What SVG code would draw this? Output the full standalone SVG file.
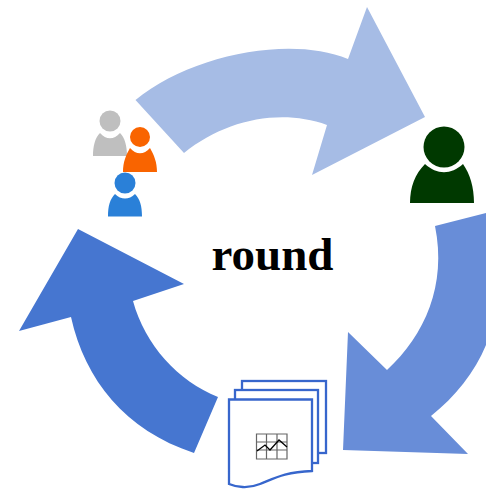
<svg xmlns="http://www.w3.org/2000/svg" width="486" height="492" viewBox="0 0 486 492">
<style>
.doc{fill:#fff;stroke:#3766cc;stroke-width:2.300}
.grid{fill:none;stroke:#666;stroke-width:1.200}
.t{font-family:"Liberation Serif",serif;font-weight:bold;font-size:47px;fill:#000}
</style>
<rect width="486" height="492" fill="#fff"/>
<g id="connectors">
<path id="arrow-top" fill="#a6bce5" d="M135.500 100C190 55 290 35 348 59L367 7L425 117L312 175L327 125C280 108 225 120 184 153Z"/>
<path id="arrow-right" fill="#688dd8" d="M435 226L486 213V345C475 372 455 397 431 416L468 454L343 450L348 332L387 370C425 335 447 285 435 226Z"/>
<path id="arrow-left" fill="#4676d0" d="M218 397L194 453C125 430 85 380 71 317L19 331L78 229L184 284L133 301C145 345 178 381 218 397Z"/>
</g>
<g id="user-gray" fill="#bfbfbf">
<circle cx="110" cy="121" r="10.500"/>
<path d="M93 156C93 146 95 138 100 133C106 140 114 140 120 133C125 138 127 146 127 156Z"/>
</g>
<g id="user-orange" fill="#f96400">
<circle cx="140" cy="137" r="10"/>
<path d="M123 172C123 162 126 155 130 148C136 155 144 155 150 148C154 155 157 162 157 172Z"/>
</g>
<g id="user-blue" fill="#2a80d8">
<circle cx="125" cy="183" r="10.500"/>
<path d="M108 216.500C108 206 110 199 115 194C121 200 129 200 135 194C140 199 142 206 142 216.500Z"/>
</g>
<g id="user-dark" fill="#003900">
<circle cx="444" cy="147" r="20.500"/>
<path d="M410 203C410 187 415 174 425 164C437 175 451 175 463 164C470 174 474 187 474 203Z"/>
</g>
<g id="documents">
<rect class="doc" x="242" y="381" width="84" height="72"/>
<rect class="doc" x="235" y="390" width="83" height="73"/>
<path class="doc" d="M229 399.500H312V471C285 472 275 478 260 484C248 489 236 487 229 484Z"/>
<path class="grid" d="M256.500 434H287V459H256.500ZM256.500 442H287M256.500 450H287M266.500 434V459M277 434V459"/>
<path d="M257 451L265 445L270 450L279 440L287 447" fill="none" stroke="#000" stroke-width="1.300"/>
</g>
<g id="label">
<text class="t" x="272.500" y="270" text-anchor="middle">round</text>
</g>
</svg>
